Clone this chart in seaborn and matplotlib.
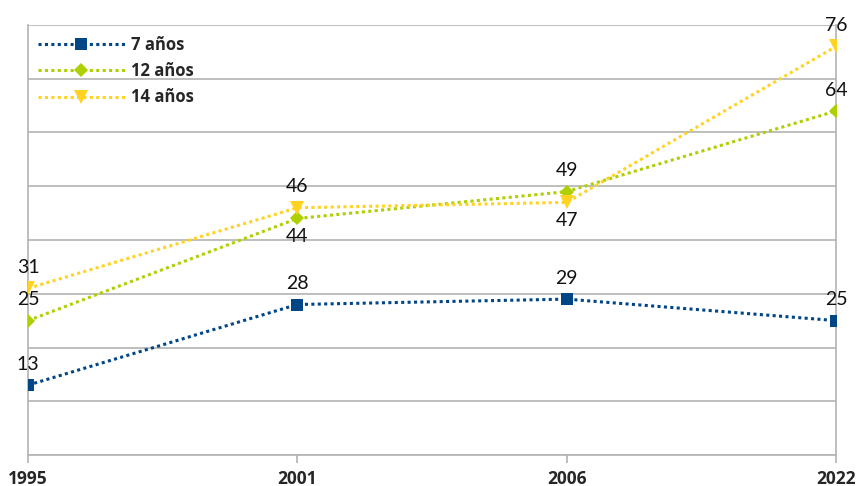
import matplotlib
matplotlib.use("Agg")
import matplotlib.pyplot as plt
import seaborn as sns
import pandas as pd

years = ["1995", "2001", "2006", "2022"]
series_names = ["7 años", "12 años", "14 años"]
age7 = [13, 28, 29, 25]
age12 = [25, 44, 49, 64]
age14 = [31, 46, 47, 76]

colors = ["#004586", "#aecf00", "#ffd320"]
markers = ["s", "D", "v"]
marker_sizes = [8, 7.5, 9.5]
# label placement per point: +1 above, -1 below
label_side = {
    "7 años": [1, 1, 1, 1],
    "12 años": [1, -1, 1, 1],
    "14 años": [1, 1, -1, 1],
}

df = pd.DataFrame({
    "year": years * 3,
    "pos": list(range(len(years))) * 3,
    "value": age7 + age12 + age14,
    "serie": [s for s in series_names for _ in years],
})

sns.set_theme(style="white")
plt.rcParams["font.family"] = ["Lato", "DejaVu Sans"]
bold_family = ["Open Sans", "DejaVu Sans"]

fig = plt.figure(figsize=(8.56, 4.86), dpi=100)
ax = fig.add_axes([28 / 856, 1 - 455 / 486, (836 - 28) / 856, (455 - 25) / 486])

dot = (0, (1, 1.1))
sns.lineplot(
    data=df, x="pos", y="value", hue="serie", style="serie",
    palette=colors, markers=markers, dashes=False, ax=ax,
    linewidth=2.2, markeredgewidth=0, sort=False, legend=False,
)
for line, ms in zip(ax.get_lines(), marker_sizes):
    line.set_linestyle(dot)
    line.set_markersize(ms)
    line.set_zorder(3)

for name, vals in zip(series_names, [age7, age12, age14]):
    for i, v in enumerate(vals):
        side = label_side[name][i]
        ax.annotate(
            str(v), (i, v), xytext=(0, 9 * side if side > 0 else -7),
            textcoords="offset points",
            ha="center", va="bottom" if side > 0 else "top",
            fontsize=14, color="#111111",
        )

ax.set_xlim(0, 3)
ax.set_ylim(0, 80)
ax.set_yticks(range(0, 81, 10))
ax.set_yticklabels([])
ax.grid(axis="y", color="#b3b3b3", linewidth=1.2)
ax.set_axisbelow(True)
ax.set_xticks(range(len(years)))
ax.set_xticklabels(years, fontweight="bold", fontsize=12.5, family=bold_family)
ax.tick_params(axis="x", length=6, width=1.2, color="#b3b3b3", pad=5, bottom=True)
ax.tick_params(axis="y", length=0)
ax.set_xlabel("")
ax.set_ylabel("")
for side in ["left", "right"]:
    ax.spines[side].set_color("#b3b3b3")
    ax.spines[side].set_linewidth(1.2)
ax.spines["top"].set_visible(False)
ax.spines["bottom"].set_color("#b3b3b3")
ax.spines["bottom"].set_linewidth(1.2)

handles = []
for c, m, ms, name in zip(colors, markers, marker_sizes, series_names):
    h, = ax.plot([], [], color=c, marker=m, markersize=ms, markeredgewidth=0,
                 linewidth=2.2, linestyle=dot, label=name)
    handles.append(h)
leg = ax.legend(handles=handles, loc="upper left", bbox_to_anchor=(-0.006, 1.01),
                frameon=False, handlelength=5.2, handletextpad=0.4,
                labelspacing=0.5,
                prop={"weight": "bold", "size": 12, "family": bold_family})

fig.savefig("out.png", dpi=100)
